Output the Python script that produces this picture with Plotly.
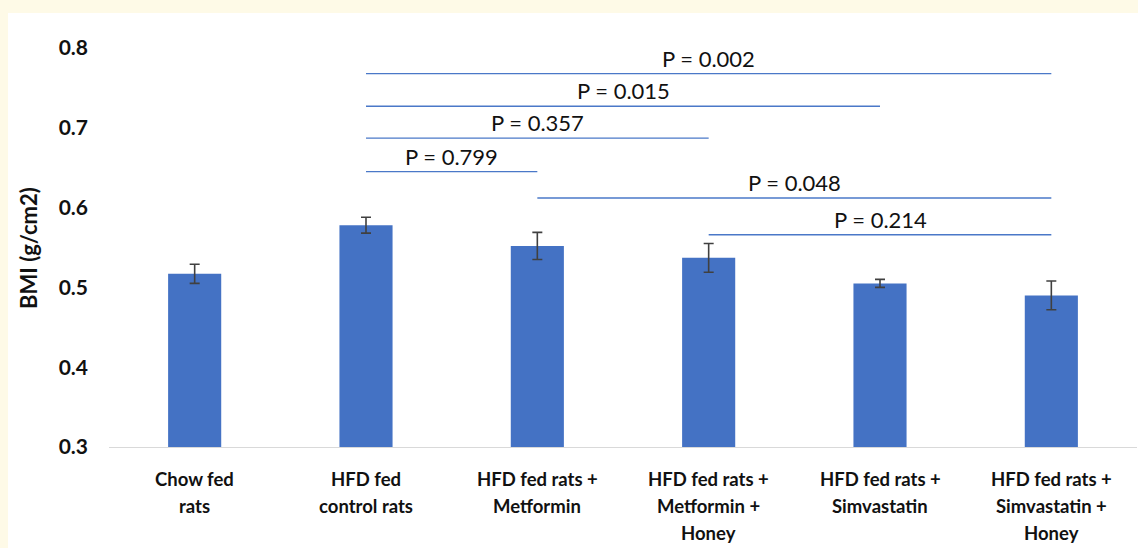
import plotly.graph_objects as go

# Group labels (line breaks mark where each label wraps)
categories = [
    "Chow fed<br>rats",
    "HFD fed<br>control rats",
    "HFD fed rats +<br>Metformin",
    "HFD fed rats +<br>Metformin +<br>Honey",
    "HFD fed rats +<br>Simvastatin",
    "HFD fed rats +<br>Simvastatin +<br>Honey",
]
bmi_mean = [0.517, 0.578, 0.552, 0.537, 0.505, 0.490]
bmi_err = [0.012, 0.010, 0.017, 0.018, 0.005, 0.018]

# Pairwise comparisons: group indices, p-value text, bracket height
pair_from = [1, 1, 1, 1, 2, 3]
pair_to = [5, 4, 3, 2, 5, 5]
p_labels = ["P = 0.002", "P = 0.015", "P = 0.357", "P = 0.799", "P = 0.048", "P = 0.214"]
bracket_y = [0.768, 0.727, 0.687, 0.645, 0.612, 0.566]

y_ticks = [0.3, 0.4, 0.5, 0.6, 0.7, 0.8]

FONT = "Lato, 'Open Sans', sans-serif"
BAR_BLUE = "#4472C4"
LINE_BLUE = "#4A78C8"
CREAM = "#FEFAE7"

W, H = 1138, 548
L, R, T, B = 109, 1, 48, 101
plot_w = W - L - R
plot_h = H - T - B

fig = go.Figure()
fig.add_trace(go.Bar(
    x=categories,
    y=bmi_mean,
    width=0.31,
    marker=dict(color=BAR_BLUE, line=dict(width=0)),
    error_y=dict(type="data", array=bmi_err, visible=True,
                 color="#404040", thickness=1.6, width=5),
    showlegend=False,
))

# Significance brackets and their p-values
for a, b, txt, yv in zip(pair_from, pair_to, p_labels, bracket_y):
    fig.add_shape(type="line", xref="x", yref="y",
                  x0=a, x1=b, y0=yv, y1=yv,
                  line=dict(color=LINE_BLUE, width=1.3))
    fig.add_annotation(x=(a + b) / 2, y=yv, xref="x", yref="y",
                       text=txt, showarrow=False,
                       xanchor="center", yanchor="bottom", yshift=0,
                       font=dict(family=FONT, size=22, color="#111111"))

# Category labels, one annotation per wrapped line
for cat in categories:
    for k, part in enumerate(cat.split("<br>")):
        fig.add_annotation(x=cat, y=0, xref="x", yref="paper",
                           text=part, showarrow=False,
                           xanchor="center", yanchor="top",
                           yshift=-19 - 27 * k,
                           font=dict(family=FONT, size=18.5, color="#111111",
                                     weight="bold"))

# Y-axis title
fig.add_annotation(x=(28 - L) / plot_w, y=(447 - 248) / plot_h,
                   xref="paper", yref="paper", text="BMI (g/cm2)",
                   textangle=-90, showarrow=False,
                   xanchor="center", yanchor="middle",
                   font=dict(family=FONT, size=22, color="#111111", weight="bold"))

# White panel on the cream page
fig.add_shape(type="rect", xref="paper", yref="paper", layer="below",
              x0=(8 - L) / plot_w, x1=1.05,
              y0=-0.4, y1=(H - B - 13) / plot_h,
              fillcolor="white", line=dict(width=0))

fig.update_layout(
    width=W, height=H,
    margin=dict(l=L, r=R, t=T, b=B, pad=0),
    paper_bgcolor=CREAM,
    plot_bgcolor="white",
    bargap=0.69,
    xaxis=dict(type="category", showticklabels=False, ticks="",
               showline=True, linecolor="#D9D9D9", linewidth=1.2,
               showgrid=False, zeroline=False, fixedrange=True),
    yaxis=dict(range=[0.3, 0.8], tickvals=y_ticks, tickformat=".1f",
               showgrid=False, zeroline=False, showline=False, ticks="",
               ticklabelstandoff=20,
               tickfont=dict(family=FONT, size=21, color="#111111", weight="bold")),
)

fig.write_html("out.html")
